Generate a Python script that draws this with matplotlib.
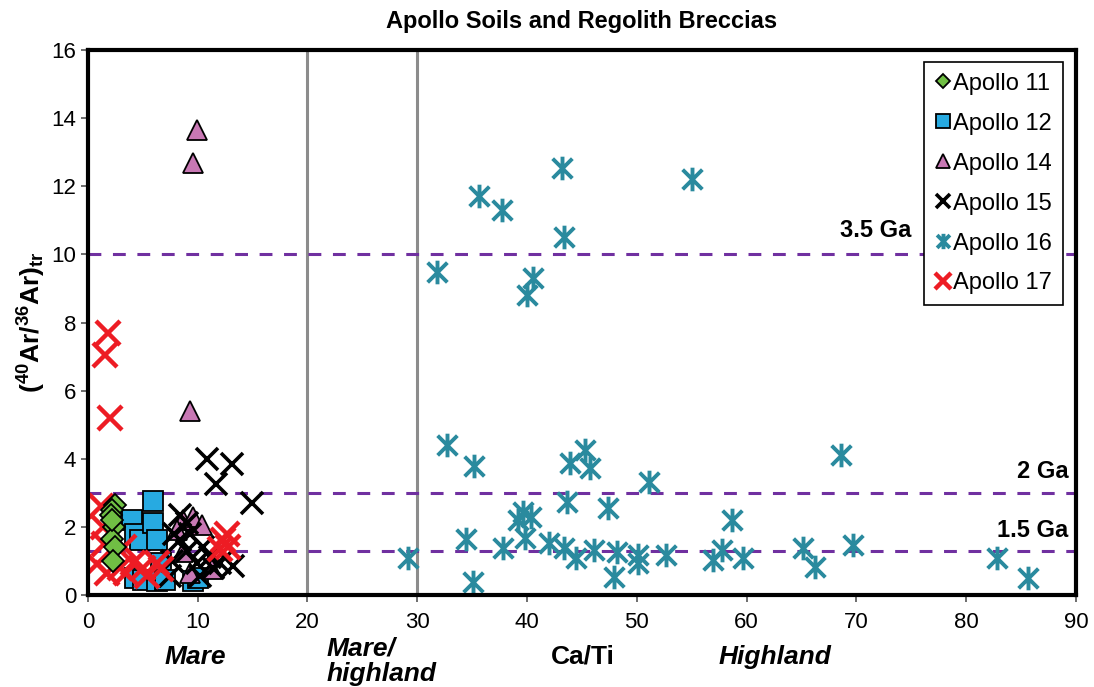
import matplotlib
matplotlib.use("Agg")
import matplotlib.pyplot as plt
from matplotlib.path import Path

plt.rcParams['font.family'] = ['Liberation Sans', 'DejaVu Sans']
plt.rcParams['mathtext.fontset'] = 'custom'
plt.rcParams['mathtext.rm'] = 'Liberation Sans'
plt.rcParams['mathtext.bf'] = 'Liberation Sans:bold'

# Ca/Ti ratio (x) and trapped 40Ar/36Ar (y) per mission
x11 = [2.5, 2.2, 2.1, 2.4, 2.2, 2.5, 2.3, 2.2]
y11 = [2.65, 2.5, 2.35, 2.0, 1.65, 1.4, 1.0, 2.2]

x12 = [4.0, 5.9, 4.3, 4.7, 5.9, 6.3, 6.7, 4.3, 5.0, 6.3, 7.0, 9.6, 10.0]
y12 = [2.2, 2.75, 1.8, 1.6, 2.1, 1.6, 0.95, 0.5, 0.45, 0.4, 0.45, 0.4, 0.5]

x14 = [9.9, 9.6, 9.3, 8.7, 9.6, 10.4, 8.1, 8.7, 9.3, 11.3]
y14 = [13.65, 12.7, 5.4, 2.2, 2.3, 2.05, 1.9, 1.25, 0.65, 0.75]

x15 = [10.8, 13.1, 11.7, 14.9, 8.4, 9.0, 7.8, 8.4, 9.0, 7.7, 7.5, 9.9, 10.2,
       11.1, 12.0, 13.2, 11.4, 9.3, 10.5]
y15 = [4.0, 3.85, 3.25, 2.7, 2.35, 2.1, 1.8, 1.6, 1.3, 1.0, 0.55, 0.95, 0.55,
       1.1, 0.95, 0.85, 0.8, 1.8, 1.4]

x16 = [29.2, 31.8, 32.7, 34.4, 35.1, 35.2, 35.6, 37.7, 37.8, 39.2,
       39.6, 40.0, 40.4, 39.8, 40.5, 42.0, 43.2, 43.4, 43.4, 43.6,
       43.9, 44.5, 45.3, 45.7, 46.1, 47.4, 47.9, 48.2, 50.1, 50.1,
       51.1, 52.7, 55.0, 56.9, 57.8, 58.7, 59.7, 65.1, 66.2, 68.6,
       69.7, 82.8, 85.6]
y16 = [1.09, 9.48, 4.40, 1.64, 0.38, 3.79, 11.71, 11.30, 1.38, 2.20,
       2.44, 8.81, 2.29, 1.67, 9.31, 1.53, 12.54, 10.51, 1.38, 2.73,
       3.88, 1.09, 4.26, 3.73, 1.32, 2.55, 0.53, 1.26, 1.17, 0.94,
       3.32, 1.17, 12.21, 1.03, 1.32, 2.20, 1.09, 1.38, 0.82, 4.11,
       1.47, 1.09, 0.50]

x17 = [1.8, 1.55, 2.0, 1.2, 1.4, 1.5, 3.3, 0.8, 1.7, 2.9, 3.5, 4.1, 5.0, 5.4,
       6.3, 6.7, 12.7, 12.3, 12.8, 12.0]
y17 = [7.7, 7.05, 5.2, 2.6, 2.0, 1.5, 1.4, 0.9, 0.65, 0.8, 0.65, 0.95, 0.8,
       0.55, 0.95, 0.75, 1.8, 1.6, 1.4, 1.35]

age_levels = [10, 3, 1.3]
age_labels = ['3.5 Ga', '2 Ga', '1.5 Ga']
age_label_pos = [(75.0, 10.7), (89.3, 3.64), (89.3, 1.9)]
boundaries = [20, 30]

# six-armed asterisk: an X with a vertical bar through it
star_path = Path([(-1, -1), (1, 1), (-1, 1), (1, -1), (0, -1.2), (0, 1.2)],
                 [Path.MOVETO, Path.LINETO] * 3)

fig = plt.figure(figsize=(10.94, 6.87), dpi=100)
ax = fig.add_axes([0.0804, 0.134, 0.903, 0.793])

for xb in boundaries:
    ax.axvline(xb, color='#8c8c8c', lw=2.2, zorder=1)
for yl in age_levels:
    ax.axhline(yl, color='#7030a0', lw=2.2, dashes=(4.2, 3.8), zorder=1)

h12, = ax.plot(x12, y12, 's', ms=15, mfc='#27aae1', mec='black', mew=1.3,
               label='Apollo 12', zorder=3)
h14, = ax.plot(x14, y14, '^', ms=15, mfc='#c878b4', mec='black', mew=1.3,
               label='Apollo 14', zorder=3)
h15, = ax.plot(x15, y15, 'x', ms=16, mec='black', mew=2.6,
               label='Apollo 15', zorder=4)
h17, = ax.plot(x17, y17, 'x', ms=17, mec='#ed1c24', mew=3.2,
               label='Apollo 17', zorder=4)
h11, = ax.plot(x11, y11, 'D', ms=11, mfc='#70bf44', mec='black', mew=1.3,
               label='Apollo 11', zorder=5)
h16, = ax.plot(x16, y16, ls='none', marker=star_path, ms=17, mec='#2a8a9e',
               mfc='none', mew=2.8, label='Apollo 16', zorder=4)

for txt, (tx, ty) in zip(age_labels, age_label_pos):
    ax.text(tx, ty, txt, ha='right', va='center', fontsize=17,
            fontweight='bold', zorder=6)

ax.set_xlim(0, 90)
ax.set_ylim(0, 16)
ax.set_xticks(range(0, 91, 10))
ax.set_yticks(range(0, 17, 2))
ax.tick_params(axis='both', labelsize=16, direction='out', length=5,
               width=1.2, color='#555555')
ax.tick_params(axis='x', pad=7)
for sp in ax.spines.values():
    sp.set_linewidth(3)
    sp.set_zorder(7)

ax.set_title('Apollo Soils and Regolith Breccias', fontsize=17,
             fontweight='bold', pad=16)
ax.set_ylabel(r'$\mathbf{(^{40}Ar/^{36}Ar)_{tr}}$', fontsize=19, labelpad=2)

# category labels under the Ca/Ti axis
fig.text(195 / 1094, 1 - 657 / 687, 'Mare', fontsize=19, fontweight='bold',
         style='italic', ha='center', va='center')
fig.text(327 / 1094, 1 - 661 / 687, 'Mare/\nhighland', fontsize=19,
         fontweight='bold', style='italic', ha='left', va='center',
         linespacing=1.1)
fig.text(583 / 1094, 1 - 657 / 687, 'Ca/Ti', fontsize=19, fontweight='bold',
         ha='center', va='center')
fig.text(775 / 1094, 1 - 657 / 687, 'Highland', fontsize=19, fontweight='bold',
         style='italic', ha='center', va='center')

leg = ax.legend(handles=[h11, h12, h14, h15, h16, h17], loc='upper right',
                bbox_to_anchor=(0.987, 0.978), borderaxespad=0, fontsize=17,
                markerscale=0.65, handlelength=0.7, handletextpad=0.1,
                labelspacing=0.76, borderpad=0.45, fancybox=False,
                edgecolor='black', framealpha=1)
leg.get_frame().set_linewidth(1.2)
leg.set_zorder(8)

fig.savefig('out.png', dpi=100)
